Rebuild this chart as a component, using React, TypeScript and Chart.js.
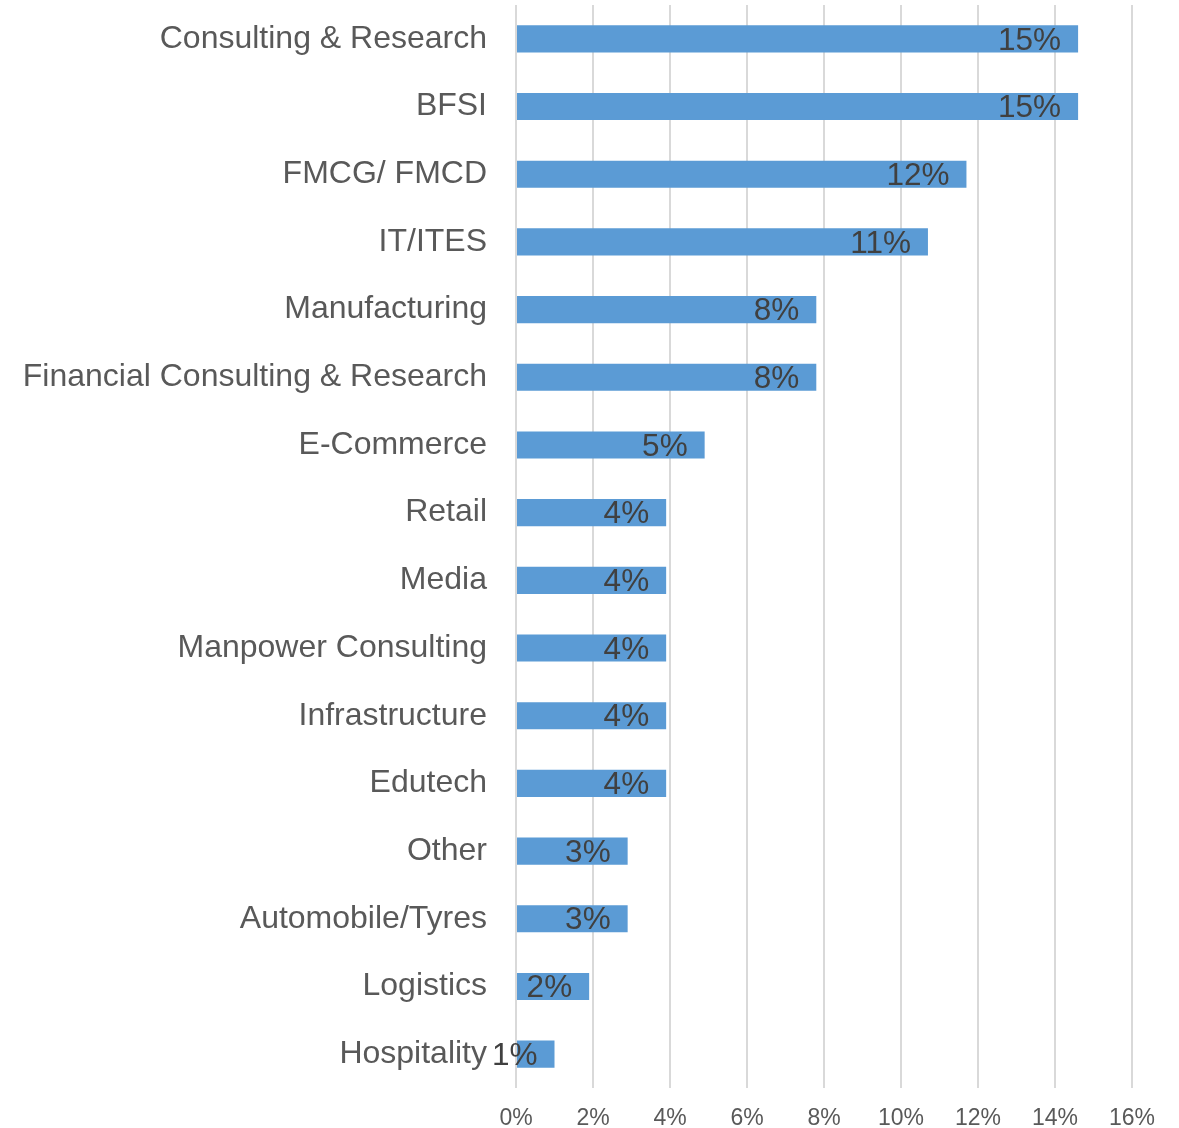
import React, { useEffect, useRef } from "react";
import { Chart, registerables } from "chart.js";

Chart.register(...registerables);

const categories = [
  "Consulting & Research",
  "BFSI",
  "FMCG/ FMCD",
  "IT/ITES",
  "Manufacturing",
  "Financial Consulting & Research",
  "E-Commerce",
  "Retail",
  "Media",
  "Manpower Consulting",
  "Infrastructure",
  "Edutech",
  "Other",
  "Automobile/Tyres",
  "Logistics",
  "Hospitality",
];

const values = [14.6, 14.6, 11.7, 10.7, 7.8, 7.8, 4.9, 3.9, 3.9, 3.9, 3.9, 3.9, 2.9, 2.9, 1.9, 1.0];

const valueLabels = ["15%", "15%", "12%", "11%", "8%", "8%", "5%", "4%", "4%", "4%", "4%", "4%", "3%", "3%", "2%", "1%"];

const xTicks = [0, 2, 4, 6, 8, 10, 12, 14, 16];

const FONT = "Arial, 'Liberation Sans', sans-serif";

const dataLabelPlugin = {
  id: "dataLabels",
  afterDatasetsDraw(chart: any) {
    const ctx = chart.ctx;
    const meta = chart.getDatasetMeta(0);
    ctx.save();
    ctx.font = `31.5px ${FONT}`;
    ctx.fillStyle = "#404040";
    ctx.textAlign = "right";
    ctx.textBaseline = "middle";
    meta.data.forEach((bar: any, i: number) => {
      ctx.fillText(valueLabels[i], bar.x - 17, bar.y + 2);
    });
    ctx.restore();
  },
};

export default function App() {
  const ref = useRef<HTMLCanvasElement | null>(null);
  useEffect(() => {
    if (!ref.current) return;
    const chart = new Chart(ref.current, {
      type: "bar",
      data: {
        labels: categories,
        datasets: [
          {
            data: values,
            backgroundColor: "#5b9bd5",
            categoryPercentage: 1,
            barPercentage: 0.4,
          },
        ],
      },
      options: {
        indexAxis: "y",
        animation: false,
        responsive: true,
        maintainAspectRatio: false,
        layout: { padding: { top: 5, right: 47, left: 0, bottom: 0 } },
        plugins: { legend: { display: false }, tooltip: { enabled: false } },
        scales: {
          x: {
            min: 0,
            max: 16,
            afterBuildTicks: (scale: any) => {
              scale.ticks = xTicks.map((v) => ({ value: v }));
            },
            afterFit: (scale: any) => {
              scale.height = 40;
            },
            grid: { color: "#d9d9d9", lineWidth: 2, drawTicks: false },
            border: { display: false },
            ticks: {
              padding: 17,
              color: "#595959",
              font: { family: FONT, size: 23 },
              callback: (v: any) => v + "%",
            },
          },
          y: {
            afterFit: (scale: any) => {
              scale.width = 516;
              scale.paddingTop = 0;
              scale.paddingBottom = 0;
            },
            grid: { display: false, drawTicks: false },
            border: { display: false },
            ticks: {
              padding: 29,
              color: "#595959",
              font: { family: FONT, size: 32 },
              autoSkip: false,
            },
          },
        },
      },
      plugins: [dataLabelPlugin],
    });
    return () => chart.destroy();
  }, []);
  return (
    <div style={{ position: "absolute", left: 0, top: 0, width: 1179, height: 1128 }}>
      <canvas ref={ref} />
    </div>
  );
}
